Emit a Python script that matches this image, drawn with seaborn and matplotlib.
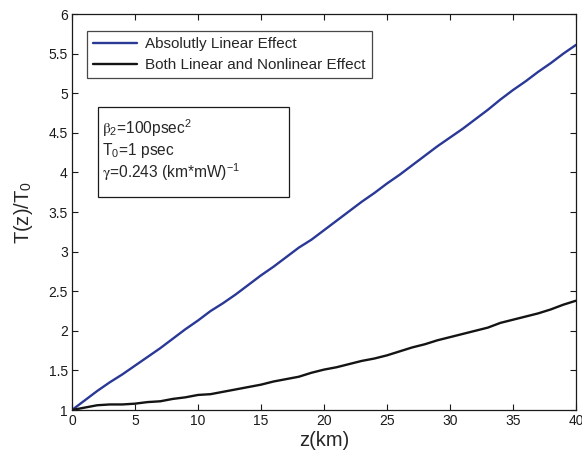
import numpy as np
import pandas as pd
import seaborn as sns
import matplotlib
matplotlib.use("Agg")
import matplotlib.pyplot as plt
from matplotlib.patches import Rectangle
from matplotlib.ticker import FormatStrFormatter, MultipleLocator

# Propagation distance (km) and normalised pulse width T(z)/T0
z_km = list(range(0, 41))
linear_only = [1.00, 1.12, 1.24, 1.35, 1.45, 1.56, 1.67, 1.78, 1.90, 2.02,
               2.13, 2.25, 2.35, 2.46, 2.58, 2.70, 2.81, 2.93, 3.05, 3.15,
               3.27, 3.39, 3.51, 3.63, 3.74, 3.86, 3.97, 4.09, 4.21, 4.33,
               4.44, 4.55, 4.67, 4.79, 4.92, 5.04, 5.15, 5.27, 5.38, 5.50,
               5.61]
linear_nonlinear = [1.00, 1.03, 1.06, 1.07, 1.07, 1.08, 1.10, 1.11, 1.14, 1.16,
                    1.19, 1.20, 1.23, 1.26, 1.29, 1.32, 1.36, 1.39, 1.42, 1.47,
                    1.51, 1.54, 1.58, 1.62, 1.65, 1.69, 1.74, 1.79, 1.83, 1.88,
                    1.92, 1.96, 2.00, 2.04, 2.10, 2.14, 2.18, 2.22, 2.27, 2.33,
                    2.38]
series_names = ["Absolutly Linear Effect", "Both Linear and Nonlinear Effect"]
series_colors = ["#2a3896", "#141414"]
param_lines = [r"$\mathrm{\beta}_\mathregular{2}$=100psec$^\mathregular{2}$",
               r"T$_\mathregular{0}$=1 psec",
               r"$\mathrm{\gamma}$=0.243 (km*mW)$^\mathregular{-1}$"]

df = pd.DataFrame({
    "z": z_km * 2,
    "T": linear_only + linear_nonlinear,
    "series": [series_names[0]] * len(z_km) + [series_names[1]] * len(z_km),
})

sns.set_style("white")
plt.rcParams["font.family"] = ["Liberation Sans", "DejaVu Sans"]
plt.rcParams["mathtext.fontset"] = "stix"

W, H = 582, 454
fig = plt.figure(figsize=(W / 100, H / 100), dpi=100)
ax = fig.add_axes([72 / W, 1 - 410 / H, (576 - 72) / W, (410 - 14) / H])

sns.lineplot(data=df, x="z", y="T", hue="series", hue_order=series_names,
             palette=series_colors, linewidth=1.7, ax=ax, legend=True)

ax.set_xlim(0, 40)
ax.set_ylim(1, 6)
ax.xaxis.set_major_locator(MultipleLocator(5))
ax.yaxis.set_major_locator(MultipleLocator(0.5))
ax.yaxis.set_major_formatter(FormatStrFormatter("%g"))
ax.tick_params(direction="in", length=4, width=0.8, top=True, right=True,
               labelsize=10, colors="#1a1a1a", pad=3,
               bottom=True, left=True)
for sp in ax.spines.values():
    sp.set_color("#1a1a1a")
    sp.set_linewidth(0.9)

ax.set_xlabel("z(km)", fontsize=14.5, labelpad=2)
ax.set_ylabel(r"T(z)/T$_\mathregular{0}$", fontsize=14.5, labelpad=10)

leg = ax.legend(loc="upper left", bbox_to_anchor=(15 / 504, 1 - 17 / 396),
                fontsize=11, frameon=True, fancybox=False, handlelength=2.9,
                borderpad=0.4, labelspacing=0.45, handletextpad=0.5,
                borderaxespad=0.0)
leg.get_frame().set_edgecolor("#1a1a1a")
leg.get_frame().set_linewidth(0.9)
for line in leg.get_lines():
    line.set_linewidth(1.7)


def px_to_axes(x, y):
    # pixel position (from the top-left of the figure) -> axes fraction
    return (x - 72) / 504, (410 - y) / 396


# framed parameter box
bx0, by0 = px_to_axes(98, 197)
bx1, by1 = px_to_axes(289, 107)
ax.add_patch(Rectangle((bx0, by0), bx1 - bx0, by1 - by0, transform=ax.transAxes,
                       facecolor="white", edgecolor="#1a1a1a", linewidth=0.9,
                       zorder=5))
for text, y_px in zip(param_lines, [128, 150, 172]):
    tx, ty = px_to_axes(102, y_px)
    ax.text(tx, ty, text, transform=ax.transAxes, fontsize=11.2,
            va="center", ha="left", zorder=6)

fig.savefig("out.png", dpi=100)
